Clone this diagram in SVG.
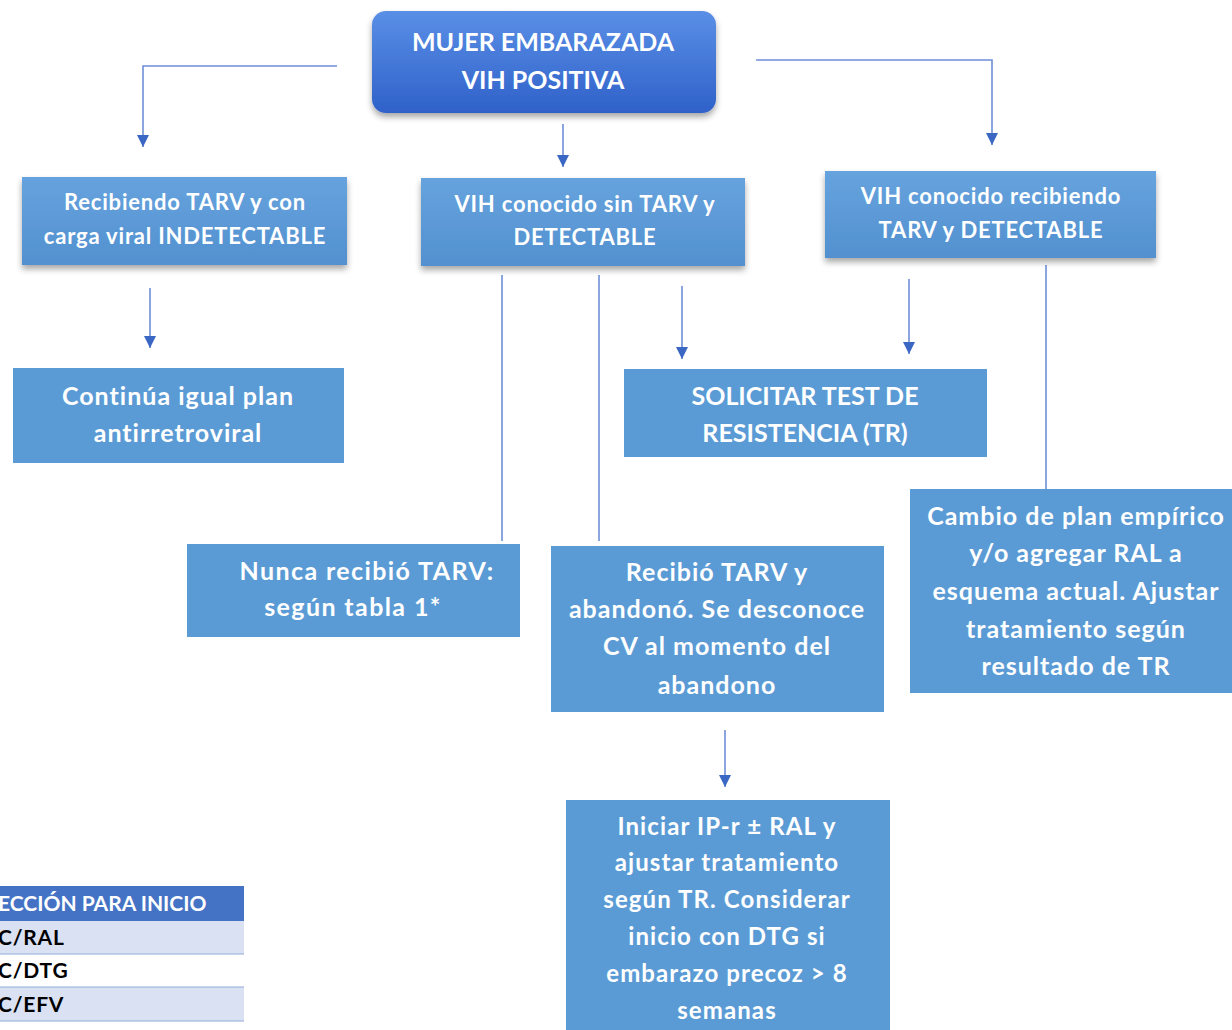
<svg xmlns="http://www.w3.org/2000/svg" width="1232" height="1030" viewBox="0 0 1232 1030">
<defs>
  <linearGradient id="gTop" x1="0" y1="0" x2="0" y2="1">
    <stop offset="0" stop-color="#5a8fe6"/>
    <stop offset="1" stop-color="#2f61c9"/>
  </linearGradient>
  <linearGradient id="gL2" x1="0" y1="0" x2="0" y2="1">
    <stop offset="0" stop-color="#66a3de"/>
    <stop offset="1" stop-color="#5290cf"/>
  </linearGradient>
  <filter id="shadow" x="-10%" y="-10%" width="120%" height="140%">
    <feDropShadow dx="0" dy="4" stdDeviation="3" flood-color="#000" flood-opacity="0.35"/>
  </filter>
  <marker id="arr" viewBox="0 0 12 12" refX="12" refY="6" markerWidth="12" markerHeight="12" markerUnits="userSpaceOnUse" orient="auto">
    <path d="M0,0 L12,6 L0,12 z" fill="#3a66c4"/>
  </marker>
</defs>
<style>
  .t { font-family: Lato, "Liberation Sans", sans-serif; font-weight: bold; fill: #ffffff; text-anchor: middle; }
  .big { font-size: 25px; letter-spacing: 1px; }
  .mid { font-size: 22px; letter-spacing: 0.8px; }
  .ini { font-size: 24px; letter-spacing: 1.1px; }
  .top { font-size: 25px; }
  .box { fill: #5b9bd5; }
  .ln { fill: none; stroke: #6f8fd8; stroke-width: 1.6; }
  .tbl { font-family: Lato, "Liberation Sans", sans-serif; font-weight: bold; font-size: 21px; }
</style>

<g id="connectors">
  <path class="ln" d="M337,66 H143 V147" marker-end="url(#arr)"/>
  <path class="ln" d="M563,124 V167" marker-end="url(#arr)"/>
  <path class="ln" d="M756,60 H992 V145" marker-end="url(#arr)"/>
  <path class="ln" d="M150,288 V348" marker-end="url(#arr)"/>
  <path class="ln" d="M502,275 V541"/>
  <path class="ln" d="M599,275 V541"/>
  <path class="ln" d="M682,286 V359" marker-end="url(#arr)"/>
  <path class="ln" d="M909,279 V354" marker-end="url(#arr)"/>
  <path class="ln" d="M1046,265 V489"/>
  <path class="ln" d="M725,730 V787" marker-end="url(#arr)"/>
</g>

<g id="n-top">
  <rect x="372" y="11" width="344" height="102" rx="14" fill="url(#gTop)" filter="url(#shadow)"/>
  <text class="t top" x="543" y="51">MUJER EMBARAZADA</text>
  <text class="t top" x="543" y="89">VIH POSITIVA</text>
</g>

<g id="n-indetectable">
  <rect x="22" y="177" width="325" height="88" fill="url(#gL2)" filter="url(#shadow)"/>
  <text class="t mid" x="185" y="210">Recibiendo TARV y con</text>
  <text class="t mid" x="185" y="244">carga viral INDETECTABLE</text>
</g>

<g id="n-sin-tarv">
  <rect x="421" y="178" width="324" height="88" fill="url(#gL2)" filter="url(#shadow)"/>
  <text class="t mid" x="585" y="212">VIH conocido sin TARV y</text>
  <text class="t mid" x="585" y="245">DETECTABLE</text>
</g>

<g id="n-recibiendo">
  <rect x="825" y="171" width="331" height="87" fill="url(#gL2)" filter="url(#shadow)"/>
  <text class="t mid" x="991" y="204">VIH conocido recibiendo</text>
  <text class="t mid" x="991" y="238">TARV y DETECTABLE</text>
</g>

<g id="n-continua">
  <rect class="box" x="13" y="368" width="331" height="95"/>
  <text class="t big" x="178" y="405">Continúa igual plan</text>
  <text class="t big" x="178" y="442">antirretroviral</text>
</g>

<g id="n-solicitar">
  <rect class="box" x="624" y="369" width="363" height="88"/>
  <text class="t big" x="805" y="405" style="letter-spacing:0">SOLICITAR TEST DE</text>
  <text class="t big" x="805" y="442" style="letter-spacing:0">RESISTENCIA (TR)</text>
</g>

<g id="n-nunca">
  <rect class="box" x="187" y="544" width="333" height="93"/>
  <text class="t big" x="367" y="580" style="letter-spacing:1.4px">Nunca recibió TARV:</text>
  <text class="t big" x="353" y="616" style="letter-spacing:1.4px">según tabla 1*</text>
</g>

<g id="n-abandono">
  <rect class="box" x="551" y="546" width="333" height="166"/>
  <text class="t big" x="717" y="581">Recibió TARV y</text>
  <text class="t big" x="717" y="618">abandonó. Se desconoce</text>
  <text class="t big" x="717" y="655">CV al momento del</text>
  <text class="t big" x="717" y="694">abandono</text>
</g>

<g id="n-cambio">
  <rect class="box" x="910" y="489" width="330" height="204"/>
  <text class="t big" x="1076" y="525">Cambio de plan empírico</text>
  <text class="t big" x="1076" y="562">y/o agregar RAL a</text>
  <text class="t big" x="1076" y="600">esquema actual. Ajustar</text>
  <text class="t big" x="1076" y="638">tratamiento según</text>
  <text class="t big" x="1076" y="675">resultado de TR</text>
</g>

<g id="n-iniciar">
  <rect class="box" x="566" y="800" width="324" height="240"/>
  <text class="t ini" x="727" y="835">Iniciar IP-r ± RAL y</text>
  <text class="t ini" x="727" y="871">ajustar tratamiento</text>
  <text class="t ini" x="727" y="908">según TR. Considerar</text>
  <text class="t ini" x="727" y="945">inicio con DTG si</text>
  <text class="t ini" x="727" y="982">embarazo precoz &gt; 8</text>
  <text class="t ini" x="727" y="1019">semanas</text>
</g>

<g id="table">
  <rect x="0" y="886" width="244" height="35" fill="#4472c4"/>
  <rect x="0" y="921" width="244" height="33" fill="#d9e1f2"/>
  <rect x="0" y="954" width="244" height="33" fill="#ffffff"/>
  <rect x="0" y="987" width="244" height="34" fill="#d9e1f2"/>
  <line x1="0" y1="954" x2="244" y2="954" stroke="#8eaadb" stroke-width="1"/>
  <line x1="0" y1="987" x2="244" y2="987" stroke="#8eaadb" stroke-width="1"/>
  <line x1="0" y1="1021" x2="244" y2="1021" stroke="#8eaadb" stroke-width="1"/>
  <text class="tbl" x="-2" y="911" fill="#ffffff">ECCIÓN PARA INICIO</text>
  <text class="tbl" x="-2" y="945" fill="#000000" style="letter-spacing:0.8px">C/RAL</text>
  <text class="tbl" x="-2" y="978" fill="#000000" style="letter-spacing:0.8px">C/DTG</text>
  <text class="tbl" x="-2" y="1012" fill="#000000" style="letter-spacing:0.8px">C/EFV</text>
</g>
</svg>
